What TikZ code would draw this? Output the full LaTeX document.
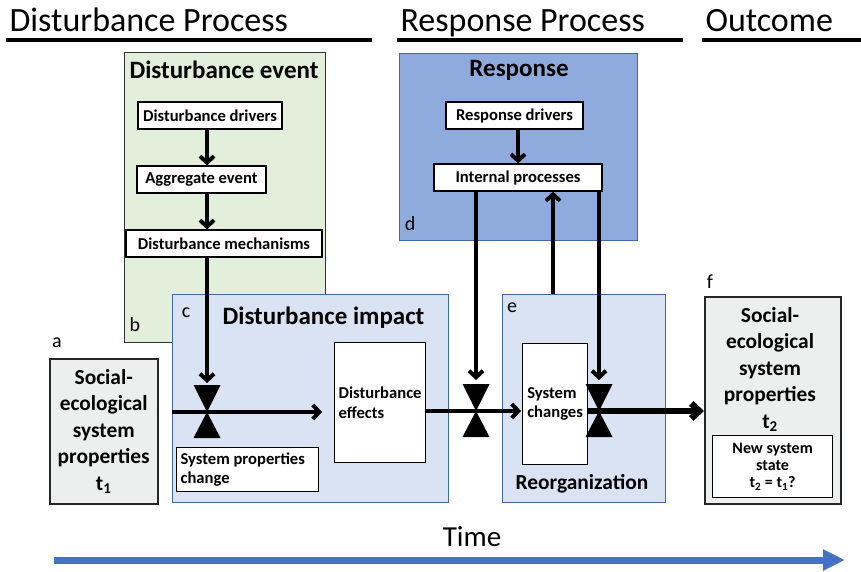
\documentclass[tikz,border=0pt]{standalone}
\usepackage{fontspec}
\setmainfont{Carlito}
\usetikzlibrary{arrows.meta,calc}
\definecolor{greenbg}{HTML}{E2EFDA}
\definecolor{lightblue}{HTML}{DAE3F3}
\definecolor{midblue}{HTML}{8FAADC}
\definecolor{bordblue}{HTML}{3F66AE}
\definecolor{graybg}{HTML}{EDEEEE}
\definecolor{timeblue}{HTML}{4472C4}
\newcommand{\fs}[1]{\fontsize{#1}{#1}\selectfont}
\begin{document}
\begin{tikzpicture}[x=1pt,y=-1pt,
  panel/.style={draw, line width=1.3pt, inner sep=0pt},
  wbox/.style={draw=black, fill=white, line width=1.2pt, inner sep=0pt, font=\bfseries\fs{16.6}},
  arr/.style={line width=4pt, -{Straight Barb[length=6.5pt,width=14pt]}},
  bigarr/.style={line width=6.5pt, -{Straight Barb[length=8pt,width=15pt]}},
  header/.style={anchor=base west, font=\fs{34}},
  hline/.style={line width=4.3pt},
  lbl/.style={font=\fs{20}},
  ttl/.style={anchor=base, font=\bfseries\fs{25}},
  bow/.style={fill=black},
]
\useasboundingbox (0,0) rectangle (861,572);

% headers
\node[header] (h1) at (6,32) {Disturbance Process};
\node[header] (h2) at (397,32) {Response Process};
\node[header] (h3) at (702,32) {Outcome};
\draw[hline] (6,40) -- (372,40);
\draw[hline] (397,40) -- (683,40);
\draw[hline] (702,40) -- (861,40);

% disturbance event panel
\node[panel, fill=greenbg, draw=black!80, anchor=north west, minimum width=201pt, minimum height=290pt] (evt) at (124,52) {};
\node[ttl] (evtt) at (224,79) {Disturbance event};
\node[lbl] (lb) at (135,325) {b};
\node[wbox, minimum width=144pt, minimum height=27pt] (dd) at (210,115.5) {Disturbance drivers};
\node[wbox, minimum width=129pt, minimum height=27pt] (agg) at (201.5,179.5) {Aggregate event};
\node[wbox, minimum width=196pt, minimum height=27pt] (mech) at (224,243.5) {Disturbance mechanisms};
\coordinate (ax) at (207,0);
\draw[arr] (dd.south -| ax) -- (agg.north -| ax);
\draw[arr] (agg.south -| ax) -- (mech.north -| ax);

% response panel
\node[panel, fill=midblue, draw=bordblue, anchor=north west, minimum width=238pt, minimum height=187pt] (resp) at (399,53) {};
\node[ttl] (respt) at (519,77) {Response};
\node[lbl] (ld) at (410,224) {d};
\node[wbox, minimum width=137pt, minimum height=27pt] (rd) at (514.5,115.5) {Response drivers};
\node[wbox, minimum width=168pt, minimum height=27pt] (ip) at (518,177.5) {Internal processes};
\coordinate (rx) at (518,0);
\draw[arr] (rd.south -| rx) -- (ip.north -| rx);

% disturbance impact panel
\node[panel, fill=lightblue, draw=bordblue, anchor=north west, minimum width=276pt, minimum height=208pt] (imp) at (172,294) {};
\node[lbl] (lc) at (186,313) {c};
\node[anchor=base, font=\bfseries\fs{25}] (impt) at (323.5,324) {Disturbance impact};
\node[wbox, anchor=north west, minimum width=91pt, minimum height=120pt, align=left] (eff) at (334,342) {Disturbance\\[3pt]effects};
\node[wbox, anchor=north west, minimum width=142pt, minimum height=44pt, text width=134pt, align=flush left] (spc) at (176,447) {System properties\\[3pt]change};

% reorganization panel
\node[panel, fill=lightblue, draw=bordblue, anchor=north west, minimum width=163pt, minimum height=208pt] (reo) at (502,294) {};
\node[lbl] (le) at (512,308) {e};
\node[anchor=base, font=\bfseries\fs{21.4}] (reot) at (582,489) {Reorganization};
\node[wbox, anchor=north west, minimum width=65pt, minimum height=121pt, align=left] (sc) at (522,343) {System\\[3pt]changes};

% system state a
\node[lbl] (la) at (57,343) {a};
\node[panel, fill=graybg, draw=black!85, line width=1.5pt, anchor=north west, minimum width=108pt, minimum height=145pt, align=center, font=\bfseries\fs{21.4}] (sa) at (49,358)
  {Social-\\[5pt]ecological\\[5pt]system\\[5pt]properties\\[5pt]t\textsubscript{1}};

% outcome f
\node[lbl] (lf) at (710,282) {f};
\node[panel, fill=graybg, draw=black!85, line width=1.5pt, anchor=north west, minimum width=136pt, minimum height=207pt] (sf) at (704,296) {};
\node[align=center, font=\bfseries\fs{21.4}, anchor=north] (sft) at (770,304)
  {Social-\\[5pt]ecological\\[5pt]system\\[5pt]properties\\[5pt]t\textsubscript{2}};
\node[wbox, anchor=north west, minimum width=120pt, minimum height=62pt, align=center, font=\bfseries\fs{16}] (nss) at (712,435)
  {New system\\[1pt]state\\[1pt]t\textsubscript{2} = t\textsubscript{1}?};

% bowties
\coordinate (v1) at (207,412);
\coordinate (v2) at (476,411);
\coordinate (v3) at (599,411);
\foreach \v in {v1,v2,v3} {
  \fill[bow] ($(\v)+(-13.5,-27)$) -- ($(\v)+(13.5,-27)$) -- (\v) -- cycle;
  \fill[bow] ($(\v)+(-13.5,26)$) -- ($(\v)+(13.5,26)$) -- (\v) -- cycle;
}
\coordinate (v1t) at (207,383);
\coordinate (v2t) at (476,380);
\coordinate (v3t) at (599,380);

% connectors
\draw[arr] (mech.south -| v1) -- (v1t);
\draw[arr] (imp.west |- v1) -- ([xshift=-12pt]eff.west |- v1);
\draw[arr] (ip.south -| v2) -- (v2t);
\draw[arr] (ip.south -| v3) -- (v3t);
\draw[arr] (eff.east |- v2) -- ([xshift=-1pt]sc.west |- v2);
\coordinate (ux) at (553,0);
\draw[arr] (reo.north -| ux) -- (ip.south -| ux);
\draw[bigarr] (sc.east |- v3) -- (sf.west |- v3);

% time
\node[font=\fs{29}] (time) at (472,537) {Time};
\coordinate (t0) at (54,560);
\coordinate (t1) at (845,560);
\draw[line width=7pt, draw=timeblue, -{Triangle[length=22pt,width=20pt]}] (t0) -- (t1);
\end{tikzpicture}
\end{document}
